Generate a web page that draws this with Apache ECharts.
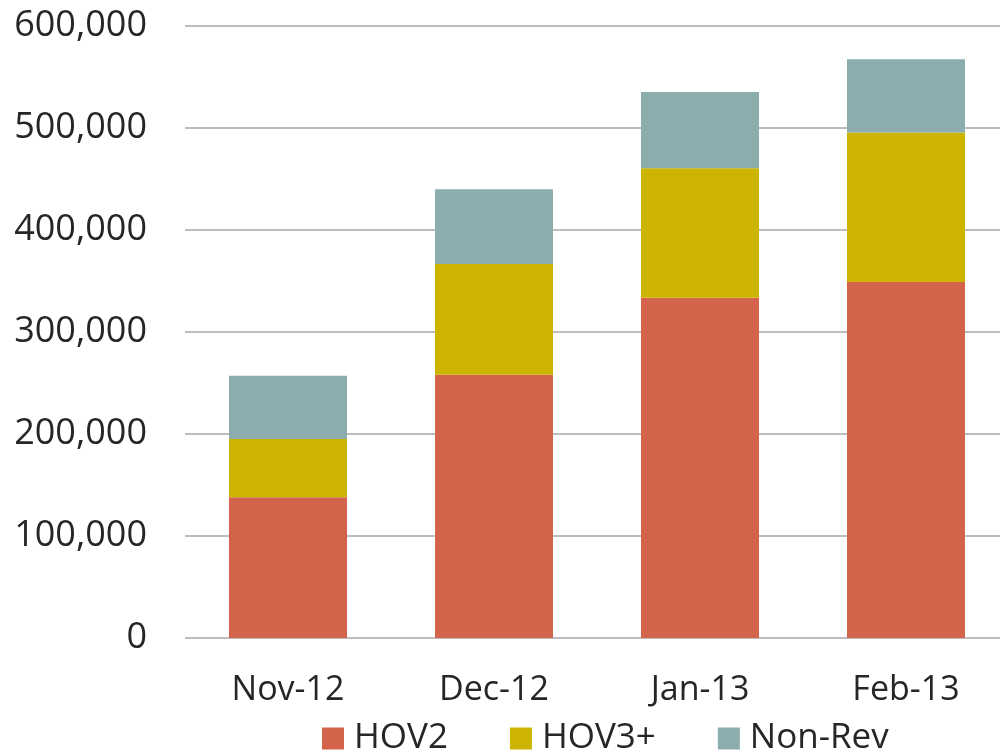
<!DOCTYPE html>
<html>
<head>
<meta charset="utf-8">
<script src="https://cdn.jsdelivr.net/npm/echarts@6/dist/echarts.min.js"></script>
<style>
html,body{margin:0;padding:0;background:#fff;overflow:hidden;}
#wrap{width:1000px;height:753px;overflow:hidden;}
#chart{width:1020px;height:753px;}
</style>
</head>
<body>
<div id="wrap"><div id="chart"></div></div>
<script>
var categories = ['Nov-12', 'Dec-12', 'Jan-13', 'Feb-13'];
var hov2 = [138000, 258000, 333500, 349000];
var hov3 = [57000, 108700, 127000, 146700];
var nonRev = [62000, 73200, 74800, 71600];
var seriesNames = ['HOV2', 'HOV3+', 'Non-Rev'];
var colors = ['#D3634A', '#CDB400', '#8CADAD'];

var chart = echarts.init(document.getElementById('chart'), null, {renderer: 'canvas'});
var fontFam = '"Open Sans", "Noto Sans", sans-serif';
var option = {
  animation: false,
  color: colors,
  grid: {left: 185, top: 26, width: 824, height: 612, containLabel: false},
  legend: {
    data: seriesNames,
    left: 322,
    top: 721,
    padding: 0,
    icon: 'rect',
    itemWidth: 22,
    itemHeight: 22,
    itemGap: 62,
    textStyle: {fontFamily: fontFam, fontSize: 35, color: '#262626', padding: [0, 0, 0, 5]}
  },
  xAxis: {
    type: 'category',
    data: categories,
    axisLine: {show: false},
    axisTick: {show: false},
    axisLabel: {fontFamily: fontFam, fontSize: 34, color: '#262626', margin: 35}
  },
  yAxis: {
    type: 'value',
    min: 0,
    max: 600000,
    interval: 100000,
    axisLine: {show: false},
    axisTick: {show: false},
    splitLine: {lineStyle: {color: '#bdbdbd', width: 2}},
    axisLabel: {
      fontFamily: fontFam, fontSize: 36, color: '#262626', margin: 38,
      formatter: function (v) { return v.toLocaleString('en-US'); }
    }
  },
  series: [
    {name: seriesNames[0], type: 'bar', stack: 'total', barWidth: 118, data: hov2},
    {name: seriesNames[1], type: 'bar', stack: 'total', barWidth: 118, data: hov3},
    {name: seriesNames[2], type: 'bar', stack: 'total', barWidth: 118, data: nonRev}
  ]
};
chart.setOption(option);
</script>
</body>
</html>
